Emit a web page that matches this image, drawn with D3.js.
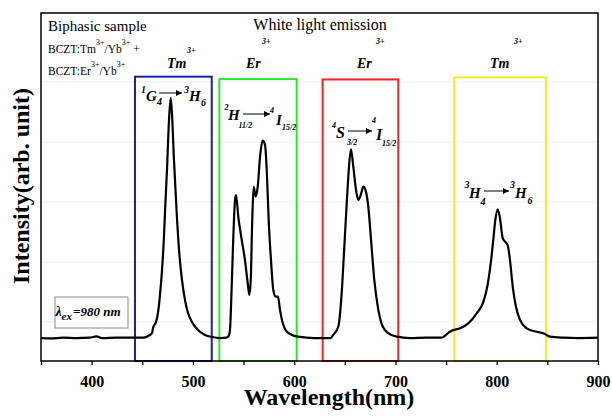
<!DOCTYPE html>
<html>
<head>
<meta charset="utf-8">
<script src="https://cdn.jsdelivr.net/npm/d3@7"></script>
<style>
  html, body { margin: 0; padding: 0; background: #fff; }
  svg { display: block; }
  text { font-family: "Liberation Serif", "Times New Roman", serif; fill: #000; }
</style>
</head>
<body>
<svg id="chart" width="612" height="416"></svg>
<script>
// Upconversion emission spectrum (λex = 980 nm)
const wavelength = [
  350, 360, 372, 385, 398, 405, 410, 425, 440, 451,
  455.7, 459.6, 460.6, 463.6, 465.5, 467.5, 469.5, 471.5, 472.4, 474.4,
  476.4, 478.1, 479.4, 481.3, 484.0, 486.3, 489.2, 492.2, 495.2, 499.1,
  505.0, 511.9, 518.9, 526.8, 533, 535.5, 536.6, 538.3, 539.9, 541.6,
  542.6, 544.8, 548.2, 551.4, 554.1, 555.7, 557.1, 558.6, 560.0, 562.0,
  564.0, 566.3, 568.9, 571.2, 572.9, 574.8, 577.1, 579.4, 581.8, 584.0,
  586.0, 588.7, 591.9, 597.6, 603.8, 620, 636, 638.6, 643.6, 646.9,
  649.5, 651.9, 654.1, 656.1, 658.4, 661.1, 663.3, 665.7, 668.3, 670.9,
  673.2, 675.9, 679.1, 683.1, 687.4, 692.9, 701.2, 714.4, 730, 745.7,
  752.2, 755.6, 763.7, 771.9, 780.2, 786.8, 790.7, 794.1, 796.6, 798.6,
  801.0, 803.2, 805.9, 808.2, 810.8, 813.1, 815.8, 819.0, 823.0, 829.6,
  839.5, 846.0, 852.6, 865.7, 880, 900
];
const intensity = [
  6.6, 6.5, 6.7, 6.6, 6.7, 7.1, 6.6, 6.7, 6.7, 6.7,
  7.2, 8.0, 9.5, 11.2, 13.8, 19.0, 26.1, 36.2, 42.5, 54.9,
  69.3, 75.6, 70.7, 57.8, 42.5, 31.9, 23.3, 17.5, 13.8, 11.2,
  8.9, 7.5, 6.9, 6.6, 6.7, 7.3, 8.9, 21.4, 35.7, 46.3,
  47.7, 41.5, 34.8, 29.0, 22.4, 19.0, 23.3, 40.5, 50.1, 47.2,
  50.1, 58.7, 63.3, 62.1, 54.9, 40.5, 29.0, 20.4, 18.5, 18.5,
  14.7, 10.9, 8.7, 7.5, 7.0, 6.6, 6.6, 7.5, 9.9, 19.5,
  32.8, 45.4, 55.8, 60.8, 55.8, 49.1, 46.3, 47.7, 50.1, 48.6,
  44.3, 34.8, 23.3, 14.7, 9.9, 8.0, 7.0, 6.6, 6.7, 6.7,
  8.1, 8.7, 9.4, 10.8, 13.7, 17.0, 21.4, 28.1, 34.8, 40.5,
  43.6, 41.0, 35.3, 34.3, 33.3, 29.0, 21.4, 15.6, 11.8, 9.4,
  8.4, 8.0, 7.0, 6.7, 6.6, 6.7
];

// Axis ticks
const majorTicks = [400, 500, 600, 700, 800, 900];
const allTicks = [350, 400, 450, 500, 550, 600, 650, 700, 750, 800, 850, 900];
const gridLevels = [11.2, 28.4, 45.7, 62.9, 80.2];

// Emission bands (nm range, top in intensity units) and their ions
const bandRange = [[442.8, 518.6], [526.1, 602.5], [628.1, 702.8], [758.1, 848.7]];
const bandTop = [81.7, 81.0, 80.9, 81.5];
const bandIon = ["Tm", "Er", "Er", "Tm"];
const bandColor = ["#1f1f9c", "#2ee62e", "#ee2424", "#f2ee22"];

const svg = d3.select("#chart");
const m = { left: 41, right: 598, top: 13, bottom: 361 };

const x = d3.scaleLinear().domain([350, 900]).range([m.left, m.right]);
const y = d3.scaleLinear().domain([0, 100]).range([m.bottom, m.top]);

// arrowhead
svg.append("defs").append("marker")
  .attr("id", "ah").attr("viewBox", "0 0 10 10")
  .attr("refX", 10).attr("refY", 5)
  .attr("markerUnits", "userSpaceOnUse")
  .attr("markerWidth", 8).attr("markerHeight", 6)
  .attr("orient", "auto")
  .append("path").attr("d", "M0,0 L10,5 L0,10 z").attr("fill", "#000");

// faint horizontal grid
svg.append("g").selectAll("line").data(gridLevels).join("line")
  .attr("x1", m.left).attr("x2", m.right)
  .attr("y1", d => y(d)).attr("y2", d => y(d))
  .attr("stroke", "#efefef").attr("stroke-width", 1);

// band boxes
svg.append("g").selectAll("rect").data(bandRange).join("rect")
  .attr("x", d => x(d[0]))
  .attr("y", (d, i) => y(bandTop[i]))
  .attr("width", d => x(d[1]) - x(d[0]))
  .attr("height", (d, i) => y(0) - y(bandTop[i]))
  .attr("fill", "none")
  .attr("stroke", (d, i) => bandColor[i])
  .attr("stroke-width", 2);

// spectrum
const pts = wavelength.map((w, i) => [w, intensity[i]]);
svg.append("path")
  .datum(pts)
  .attr("d", d3.line().x(d => x(d[0])).y(d => y(d[1])).curve(d3.curveMonotoneX))
  .attr("fill", "none").attr("stroke", "#000").attr("stroke-width", 2.2)
  .attr("stroke-linejoin", "round");

// frame
svg.append("rect")
  .attr("x", m.left).attr("y", m.top)
  .attr("width", m.right - m.left).attr("height", m.bottom - m.top)
  .attr("fill", "none").attr("stroke", "#000").attr("stroke-width", 1.5);

// x axis
const xAxis = svg.append("g").attr("transform", `translate(0,${m.bottom})`)
  .attr("font-family", null).attr("font-size", null)
  .call(d3.axisBottom(x).tickValues(allTicks).tickSize(4).tickFormat(d3.format("d")));
xAxis.attr("font-family", null).attr("font-size", null);
xAxis.select(".domain").remove();
xAxis.selectAll(".tick line").attr("stroke", "#000").attr("stroke-width", 1.3);
xAxis.selectAll(".tick text").filter(d => !majorTicks.includes(d)).remove();
xAxis.selectAll(".tick text")
  .attr("y", 26).attr("dy", 0)
  .attr("font-family", '"Liberation Serif", "Times New Roman", serif')
  .attr("font-size", 16).attr("font-weight", "bold").attr("fill", "#000");

// axis titles
svg.append("text").attr("x", 329).attr("y", 405).attr("text-anchor", "middle")
  .style("font-size", "24px").style("font-weight", "bold").text("Wavelength(nm)");
svg.append("text").attr("transform", "translate(29,186) rotate(-90)")
  .attr("text-anchor", "middle")
  .style("font-size", "24px").style("font-weight", "bold").text("Intensity(arb. unit)");

// helper for a piece of text
function put(tx, ty, str, size, opts = {}) {
  return svg.append("text").attr("x", tx).attr("y", ty)
    .style("font-size", size + "px")
    .style("font-weight", opts.bold ? "bold" : "normal")
    .style("font-style", opts.italic ? "italic" : "normal")
    .attr("text-anchor", opts.anchor || "start")
    .text(str);
}
const bi = { bold: true, italic: true };

// header texts
put(48, 31, "Biphasic sample", 15);
put(320, 30, "White light emission", 16, { anchor: "middle" });

function sampleLine(ty, ion) {
  const t = svg.append("text").attr("x", 48).attr("y", ty).style("font-size", "11.5px");
  t.append("tspan").text("BCZT:" + ion);
  t.append("tspan").attr("dy", -8).style("font-size", "8px").text("3+");
  t.append("tspan").attr("dy", 8).text("/Yb");
  t.append("tspan").attr("dy", -8).style("font-size", "8px").text("3+");
  return t;
}
sampleLine(53, "Tm").append("tspan").attr("dy", 8).text(" +");
sampleLine(75, "Er");

// ion labels over each band
const ionX = [167, 246, 357, 490];
const supX = [187, 262, 376, 514];
const supY = [53, 44, 44, 44];
bandIon.forEach((ion, i) => {
  put(ionX[i], 68, ion, 14, bi);
  put(supX[i], supY[i], "3+", 8, bi);
});

// transition labels
function arrow(x1, x2, yy) {
  svg.append("line").attr("x1", x1).attr("x2", x2).attr("y1", yy).attr("y2", yy)
    .attr("stroke", "#000").attr("stroke-width", 1).attr("marker-end", "url(#ah)");
}
// Tm blue: 1G4 -> 3H6
put(141, 93, "1", 10, bi); put(146, 101, "G", 15, bi); put(157, 105, "4", 10, bi);
arrow(159, 182, 93);
put(184, 93, "3", 10, bi); put(189, 101, "H", 15, bi); put(201, 106, "6", 10, bi);
// Er green: 2H11/2 -> 4I15/2
put(224.5, 110, "2", 8, bi); put(228, 120, "H", 15, bi); put(238.5, 128, "11/2", 8, bi);
arrow(243, 270, 114);
put(270, 113, "4", 8, bi); put(276, 125, "I", 15, bi); put(282, 130, "15/2", 8, bi);
// Er red: 4S3/2 -> 4I15/2
put(332, 128, "4", 8, bi); put(336, 138, "S", 16, bi); put(347, 145, "3/2", 8, bi);
arrow(348, 372, 131);
put(372, 123, "4", 8, bi); put(376, 140, "I", 16, bi); put(382, 146, "15/2", 8, bi);
// Tm yellow: 3H4 -> 3H6
put(464.5, 188, "3", 10, bi); put(469, 198, "H", 15, bi); put(480.5, 205, "4", 10, bi);
arrow(484, 509, 191);
put(510, 188, "3", 10, bi); put(515, 198, "H", 15, bi); put(527.5, 204, "6", 10, bi);

// excitation note
svg.append("rect").attr("x", 55).attr("y", 297).attr("width", 73).attr("height", 31)
  .attr("fill", "#fff").attr("stroke", "#8a8a8a").attr("stroke-width", 1);
put(55.5, 316, "λ", 14, bi);
put(61.5, 320, "ex", 11, bi);
put(73, 316, "=980 nm", 13, bi);
</script>
</body>
</html>
